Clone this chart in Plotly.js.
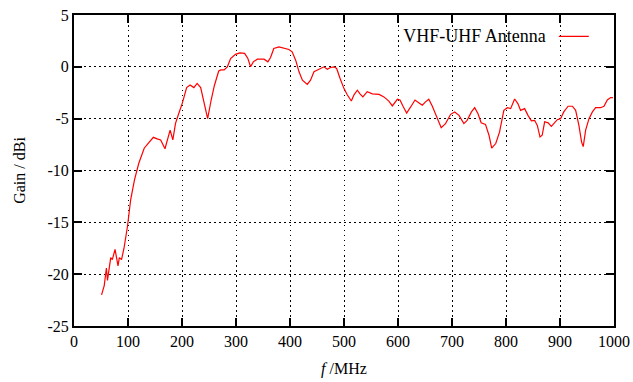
<!DOCTYPE html>
<html>
<head>
<meta charset="utf-8">
<script src="https://cdn.plot.ly/plotly-3.0.1.min.js"></script>
<style>html,body{margin:0;padding:0;background:#fff;}#chart{width:633px;height:382px;}</style>
</head>
<body>
<div id="chart"></div>
<script>
// Frequency in MHz
const freq = [51,56,60,62,68,71,76,81.5,84,88,92.6,99,105,112,120,130,137,147,154,160.5,168.5,173,178,183,188,194,200.6,208.6,215,222,228,234.6,241,247.5,254,260,268,272,278,284,290,299,307,316,322,327,332,339.5,352,359,364,370,379.6,389,398,404,410.5,416.7,423,432,438,444.4,453.7,463,469,475,481.5,486.4,492.6,500,506,513.6,518.5,524.7,529.6,535,543,552.5,565,574,583,589.5,598.8,603.7,610,616,623.5,631.5,639,645,651,657,663.6,670,680,688,697.5,705,713,722,728,736,742,748,754,762,768.5,773.5,781,788,796,802.5,808.6,816,822,827,834.5,840.7,847,853,858,863,867,871.6,878,884,889,895,901,907,915,923,929,935,940,943,947.5,953.7,960,966,975,981.5,987.6,993.8,998];
// Gain in dBi
const gain = [-22.0,-21.1,-19.4,-20.6,-18.4,-18.6,-17.6,-19.2,-18.4,-18.6,-17.5,-15.4,-12.8,-10.9,-9.3,-7.85,-7.4,-6.8,-6.95,-7.05,-7.9,-7.05,-6.1,-7.05,-5.45,-4.5,-3.5,-2.0,-1.75,-2.0,-1.6,-2.0,-3.5,-5.0,-3.2,-1.8,-0.4,-0.3,-0.3,0,0.8,1.2,1.35,1.3,0.8,0,0.48,0.74,0.74,0.48,0.9,1.77,1.93,1.83,1.67,1.45,0.64,-0.48,-1.29,-1.7,-1.29,-0.48,-0.23,0,-0.23,-0.06,0,-0.16,-1.1,-2.1,-2.7,-3.3,-2.7,-2.25,-2.6,-2.9,-2.4,-2.6,-2.66,-2.9,-3.3,-3.77,-3.13,-3.2,-3.87,-4.45,-3.87,-3.2,-3.48,-3.7,-3.38,-3.13,-3.8,-4.68,-5.87,-5.48,-4.58,-4.35,-4.68,-5.48,-5.16,-4.35,-3.94,-4.5,-5.4,-5.55,-6.6,-7.84,-7.4,-6.3,-4.2,-3.94,-4.03,-3.1,-3.55,-4.2,-4.03,-4.68,-5.2,-5.16,-5.65,-6.77,-6.6,-5.3,-5.4,-5.74,-5.4,-5.1,-5.0,-4.35,-3.8,-3.8,-4.2,-5.65,-7.26,-7.7,-6.1,-5.0,-4.35,-3.94,-3.94,-3.8,-3.2,-2.97,-2.97];
const xTicks = [0,100,200,300,400,500,600,700,800,900,1000];
const yTicks = [-25,-20,-15,-10,-5,0,5];
const seriesName = 'VHF-UHF Antenna';

const font = {family: '"Liberation Serif", "Times New Roman", serif', size: 16, color: '#000'};
const legendFont = Object.assign({}, font, {size: 18});

const axisCommon = {
  showline: true, linecolor: '#000', linewidth: 2, mirror: 'ticks',
  ticks: 'inside', ticklen: 8, tickwidth: 2, tickcolor: '#000',
  showgrid: true, gridcolor: '#000', gridwidth: 1, griddash: '1.5px,3.5px',
  zeroline: false, tickfont: font, tickmode: 'array'
};

const data = [{
  x: freq, y: gain, type: 'scatter', mode: 'lines', name: ' ',
  line: {color: '#ff0000', width: 1.2}
}];

const layout = {
  width: 633, height: 382,
  margin: {l: 74, r: 19, t: 15, b: 56},
  paper_bgcolor: '#fff', plot_bgcolor: '#fff',
  font: font,
  showlegend: true,
  legend: {
    x: 0.982, y: 0.99, xanchor: 'right', yanchor: 'top',
    bgcolor: 'rgba(0,0,0,0)', borderwidth: 0,
    title: {text: seriesName, side: 'left', font: legendFont},
    font: legendFont, itemwidth: 30
  },
  xaxis: Object.assign({}, axisCommon, {
    range: [0, 1000], tickvals: xTicks, ticktext: xTicks.map(String),
    title: {text: '<i>f</i> /MHz', font: font, standoff: 14}
  }),
  yaxis: Object.assign({}, axisCommon, {
    range: [-25, 5], tickvals: yTicks, ticktext: yTicks.map(String),
    title: {text: 'Gain / dBi', font: font, standoff: 18}
  })
};

Plotly.newPlot('chart', data, layout, {displayModeBar: false, staticPlot: true});
</script>
</body>
</html>
